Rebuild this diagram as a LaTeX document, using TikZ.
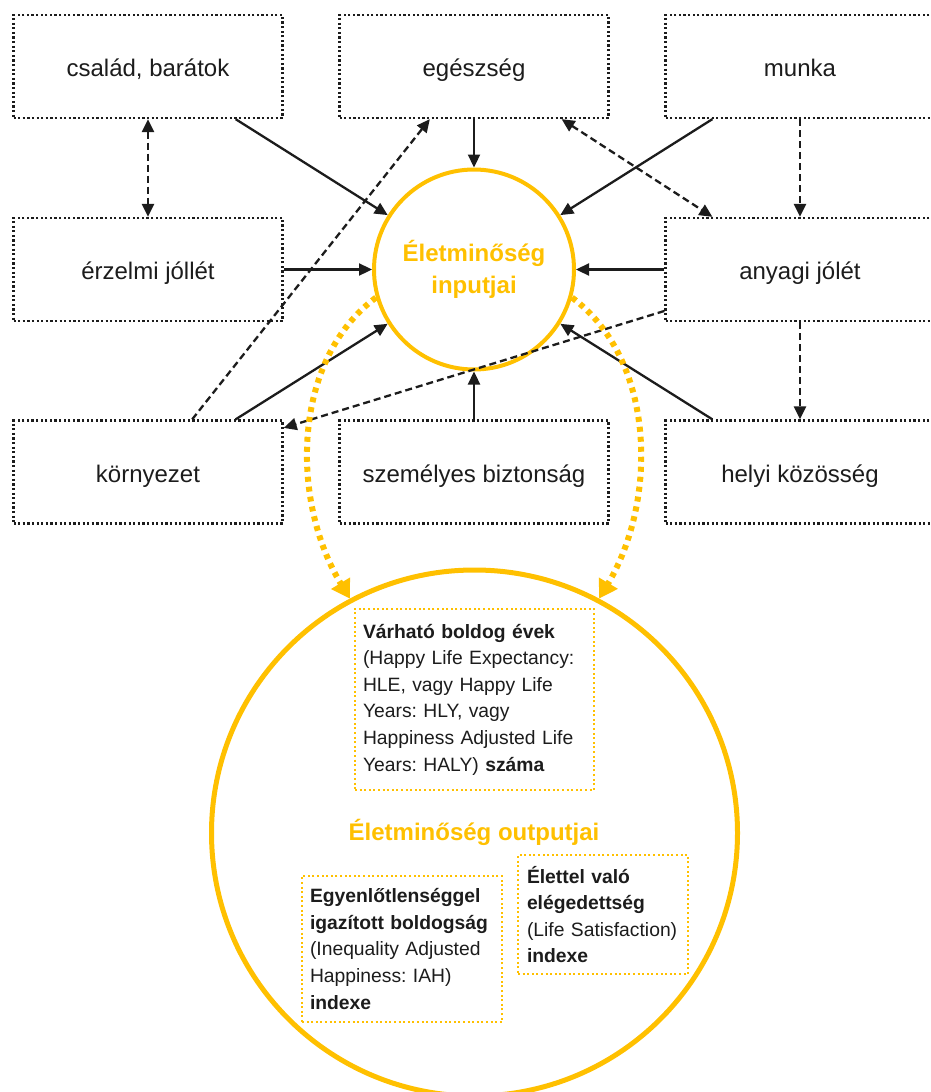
\documentclass[tikz,border=0pt]{standalone}
\usepackage{fontspec}
\setmainfont{Liberation Sans}
\usetikzlibrary{arrows.meta}
\definecolor{gold}{RGB}{255,192,0}
\definecolor{ink}{RGB}{28,28,28}
\frenchspacing
\begin{document}
\begin{tikzpicture}[x=1pt,y=-1pt,
  factor/.style={draw=ink, line width=2.3pt, dash pattern=on 2.2pt off 2.4pt,
    minimum width=269, minimum height=103, inner sep=0pt, text=ink,
    text height=20pt, text depth=0pt,
    font=\fontsize{24}{29}\selectfont},
  hub/.style={circle, draw=gold, line width=4pt, minimum size=200, inner sep=0pt,
    text=gold, align=center, font=\bfseries\fontsize{24}{32}\selectfont},
  result/.style={circle, draw=gold, line width=5pt, minimum size=526, inner sep=0pt},
  measure/.style={draw=gold, line width=2pt, dash pattern=on 2pt off 2.6pt,
    align=left, inner xsep=8pt, inner ysep=0pt, text=ink,
    font=\fontsize{19.3}{26.6}\selectfont},
  flow/.style={draw=ink, line width=2.3pt, -{Triangle[length=13pt, width=12pt]}},
  link/.style={draw=ink, line width=2.3pt, dash pattern=on 7pt off 4pt,
    -{Triangle[length=13pt, width=12pt]}},
  mutual/.style={link, {Triangle[length=13pt, width=12pt]}-{Triangle[length=13pt, width=12pt]}},
  feed/.style={draw=gold, line width=6pt, dash pattern=on 5pt off 5pt,
    -{Triangle[length=18pt, width=21pt]}}
]
\useasboundingbox (0,0) rectangle (930,1092);

% input factors
\node[factor] (fam)    at (148,66.5)  {család, barátok};
\node[factor] (health) at (474,66.5)  {egészség};
\node[factor] (work)   at (800,66.5)  {munka};
\node[factor] (emo)    at (148,269.5) {érzelmi jóllét};
\node[factor] (mat)    at (800,269.5) {anyagi jólét};
\node[factor] (env)    at (148,472)   {környezet};
\node[factor] (sec)    at (474,472)   {személyes biztonság};
\node[factor] (loc)    at (800,472)   {helyi közösség};

% central hub
\node[hub] (inp) at (474,269.5) {Életminőség\\inputjai};

% direct influences on the hub
\draw[flow] (fam.-31) -- (inp);
\draw[flow] (health.south) -- (inp.north);
\draw[flow] (work.211) -- (inp);
\draw[flow] (emo.east) -- (inp.west);
\draw[flow] (mat.west) -- (inp.east);
\draw[flow] (env.31) -- (inp);
\draw[flow] (sec.north) -- (inp.south);
\draw[flow] (loc.149) -- (inp);

% interactions between factors
\draw[mutual] (fam.south) -- (emo.north);
\draw[link] (env.50.5) -- (health.230.6);
\draw[mutual] (health.-31) -- (mat.149);
\draw[link] (work.south) -- (mat.north);
\draw[link] (mat.197.6) -- (env.18);
\draw[link] (mat.south) -- (loc.north);

% outputs
\node[result] (out) at (474.5,833) {};
\node[text=gold, font=\bfseries\fontsize{24}{29}\selectfont, inner sep=0pt]
  (outtitle) at (474,832) {Életminőség outputjai};

\node[measure, text width=223pt, minimum height=181] (hle) at (474.5,699.5)
  {\textbf{Várható boldog évek}\\(Happy Life Expectancy:\\HLE, vagy Happy Life\\Years: HLY, vagy\\Happiness Adjusted Life\\Years: HALY) \textbf{száma}};
\node[measure, text width=184pt, minimum height=146] (iah) at (402,949)
  {\textbf{Egyenlőtlenséggel}\\\textbf{igazított boldogság}\\(Inequality Adjusted\\Happiness: IAH)\\\textbf{indexe}};
\node[measure, inner xsep=9pt, text width=152pt, minimum height=119] (ls) at (603,914.5)
  {\textbf{Élettel való}\\\textbf{elégedettség}\\(Life Satisfaction)\\\textbf{indexe}};

% hub feeding the outputs
\draw[feed] (inp.196) .. controls (292,360) and (290,500) .. (out.118);
\draw[feed] (inp.-16) .. controls (656,360) and (658,500) .. (out.62);
\end{tikzpicture}
\end{document}
